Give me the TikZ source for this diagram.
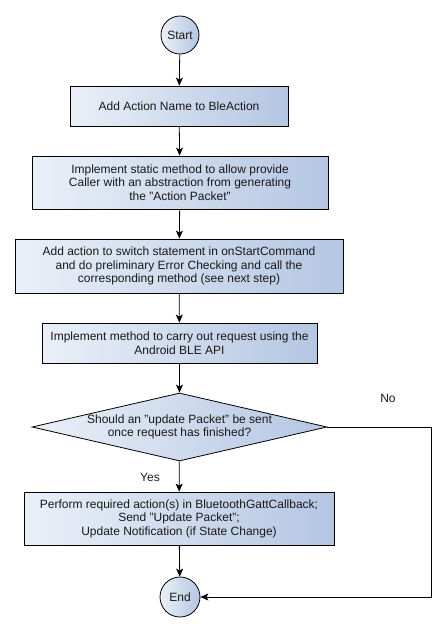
\documentclass[tikz,border=0pt]{standalone}
\usepackage{fontspec}
\setmainfont{Liberation Sans}
\usetikzlibrary{shapes.geometric,arrows.meta}
\definecolor{fillL}{RGB}{234,240,248}
\definecolor{fillR}{RGB}{180,198,226}
\definecolor{txt}{RGB}{25,25,25}
\tikzset{
  base/.style={draw=black, line width=0.8pt, left color=fillL, right color=fillR, text=txt,
    font=\fontsize{12}{13.6}\selectfont, align=center, inner sep=0pt},
  procbox/.style={base, rectangle},
  termnode/.style={base, circle, minimum size=38pt},
  decnode/.style={base, diamond, aspect=4.3},
  arr/.style={draw=black, line width=0.8pt, -{Stealth[length=8pt,width=7pt,inset=2pt]}},
  lbl/.style={text=txt, font=\fontsize{12}{13.6}\selectfont, inner sep=0pt}
}
\begin{document}
\begin{tikzpicture}[x=1pt,y=-1pt]
\useasboundingbox (0,0) rectangle (445,630);
\node[termnode] (start) at (180,35) {Start};
\node[procbox, minimum width=218pt, minimum height=40pt] (b1) at (179,106) {Add Action Name to BleAction};
\node[procbox, minimum width=296pt, minimum height=53pt] (b2) at (180,182.5) {Implement static method to allow provide\\Caller with an abstraction from generating\\the "Action Packet"};
\node[procbox, minimum width=328pt, minimum height=54pt] (b3) at (179,266) {Add action to switch statement in onStartCommand\\and do preliminary Error Checking and call the\\corresponding method (see next step)};
\node[procbox, minimum width=275pt, minimum height=40pt] (b4) at (179.5,343) {Implement method to carry out request using the\\Android BLE API};
\node[decnode, minimum width=295pt, minimum height=68pt] (dec) at (179.5,427) {Should an "update Packet" be sent\\once request has finished?};
\node[procbox, minimum width=310pt, minimum height=53pt] (b5) at (179,518.5) {Perform required action(s) in BluetoothGattCallback;\\Send "Update Packet";\\Update Notification (if State Change)};
\node[termnode, minimum size=40pt] (end) at (180,597) {End};
\node[lbl] (no) at (388,398) {No};
\node[lbl] (yes) at (150,477) {Yes};
\coordinate (turn) at (431,427);
\draw[arr] (start) -- (b1);
\draw[arr] (b1) -- (b2);
\draw[arr] (b2) -- (b3);
\draw[arr] (b3) -- (b4);
\draw[arr] (b4) -- (dec);
\draw[arr] (dec) -- (b5);
\draw[arr] (b5) -- (end);
\draw[arr] (dec.east) -- (turn) |- (end.east);
\end{tikzpicture}
\end{document}
